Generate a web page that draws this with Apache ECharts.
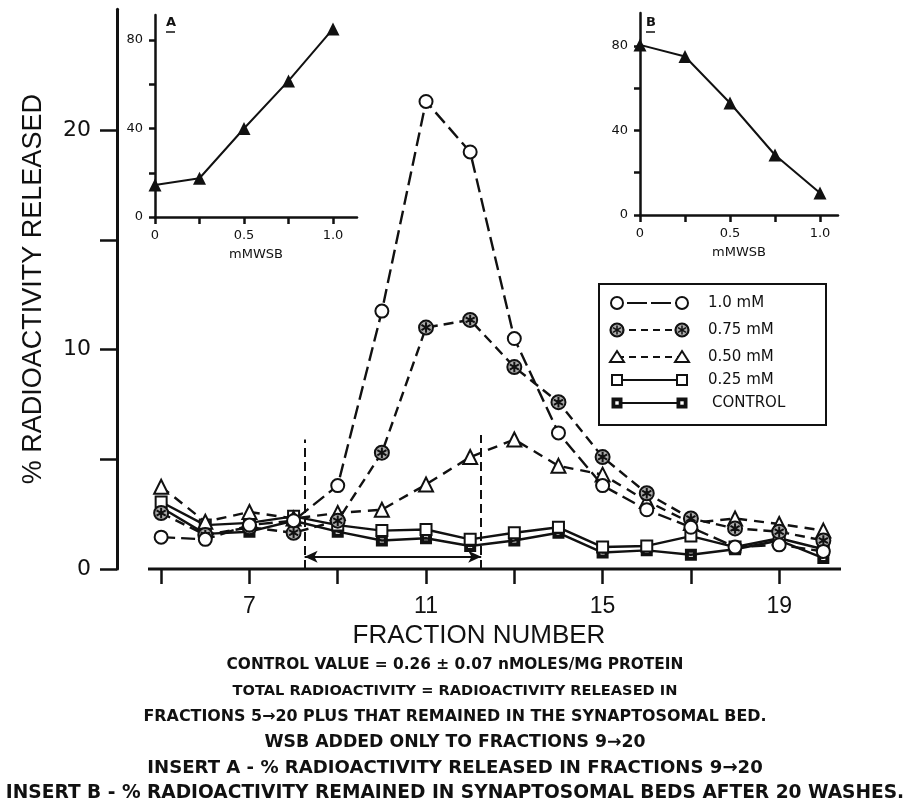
<!DOCTYPE html>
<html>
<head>
<meta charset="utf-8">
<script src="https://cdn.jsdelivr.net/npm/echarts@6/dist/echarts.min.js"></script>
<style>html,body{margin:0;padding:0;background:#fff}#c{width:913px;height:801px}</style>
</head>
<body>
<div id="c"></div>
<script>
// ---- data ----
const fractions = [5,6,7,8,9,10,11,12,13,14,15,16,17,18,19,20];
const mM100 = [1.45,1.35,2.0,2.2,3.8,11.75,21.3,19.0,10.5,6.2,3.8,2.7,1.9,1.0,1.1,0.8];
const mM075 = [2.55,1.55,1.9,1.65,2.2,5.3,11.0,11.35,9.2,7.6,5.1,3.45,2.3,1.85,1.7,1.3];
const mM050 = [3.75,2.15,2.6,2.3,2.55,2.7,3.85,5.1,5.9,4.7,4.3,3.1,2.1,2.3,2.05,1.75];
const mM025 = [3.05,2.0,2.1,2.4,2.0,1.75,1.8,1.35,1.65,1.9,1.0,1.05,1.5,1.0,1.4,0.9];
const control = [2.8,1.6,1.7,2.2,1.7,1.3,1.4,1.05,1.3,1.65,0.75,0.85,0.65,0.9,1.3,0.5];
const seriesNames = ['1.0 mM','0.75 mM','0.50 mM','0.25 mM','CONTROL'];

const xTicks = [5,7,9,11,13,15,17,19];
const xLabels = [7,11,15,19];
const yTicks = [0,5,10,15,20];
const yLabels = [0,10,20];

// WSB window annotation
const windowStart = 8.25, windowEnd = 12.25;
const windowTopLeft = 5.9, windowTopRight = 6.1, arrowLevel = 0.56;

// inserts
const dose = [0,0.25,0.5,0.75,1.0];
const insertA = [14.5,17.5,40,61.5,85];
const insertB = [80.5,75,53,28.4,10.4];
const insTicksY = [0,20,40,60,80];
const insLabelsY = [0,40,80];
const insTicksX = [0,0.25,0.5,0.75,1.0];
const insLabelsX = [0,0.5,1.0];

const notes = [
  'CONTROL VALUE = 0.26 \u00b1 0.07 nMOLES/MG PROTEIN',
  'TOTAL RADIOACTIVITY = RADIOACTIVITY RELEASED IN',
  'FRACTIONS 5\u219220 PLUS THAT REMAINED IN THE SYNAPTOSOMAL BED.',
  'WSB ADDED ONLY TO FRACTIONS 9\u219220',
  'INSERT A - % RADIOACTIVITY RELEASED IN FRACTIONS 9\u219220',
  'INSERT B - % RADIOACTIVITY REMAINED IN SYNAPTOSOMAL BEDS AFTER 20 WASHES.'
];

// ---- styling ----
const INK = '#111';
const FONT = 'DejaVu Sans';
const pair = (xs, ys) => xs.map((x,i)=>[x, ys[i]]);
const astPath = 'path://M2,12A10,10 0 1,1 22,12A10,10 0 1,1 2,12Z M12,4.5L12,19.5 M5.5,8.3L18.5,15.7 M5.5,15.7L18.5,8.3';
const ctrlPath = 'path://M0,0L10,0L10,10L0,10Z M3.3,3.3L3.3,6.7L6.7,6.7L6.7,3.3Z';

const styles = [
  {symbol:'circle', size:13, fill:'#fff', dash:[14,6]},
  {symbol:astPath, size:14, fill:'#aaa', dash:[10,6]},
  {symbol:'triangle', size:14, fill:'#fff', dash:[10,7]},
  {symbol:'rect', size:11, fill:'#fff', dash:'solid'},
  {symbol:ctrlPath, size:12, fill:INK, dash:'solid', noBorder:true}
];
const mainData = [mM100, mM075, mM050, mM025, control];

const mainSeries = mainData.map((vals, k) => {
  const st = styles[k];
  const s = {
    name: seriesNames[k], type:'line', xAxisIndex:0, yAxisIndex:0,
    data: pair(fractions, vals),
    symbol: st.symbol, symbolSize: st.size, symbolKeepAspect:true,
    showAllSymbol:true,
    lineStyle:{color:INK, width:2.4, type:st.dash},
    itemStyle: st.noBorder ? {color:INK, borderWidth:0} : {color:st.fill, borderColor:INK, borderWidth:2},
    z: 10 - k, animation:false
  };
  if (k === 0) {
    s.markLine = {
      silent:true, animation:false, symbol:['none','none'],
      label:{show:false},
      lineStyle:{color:INK, width:2, type:[9,5]},
      data:[
        [{coord:[windowStart,0]},{coord:[windowStart,windowTopLeft]}],
        [{coord:[windowEnd,0]},{coord:[windowEnd,windowTopRight]}],
        [{coord:[windowStart,arrowLevel], symbol:'arrow', symbolSize:[9,13], lineStyle:{type:'solid', width:2}},
         {coord:[windowEnd,arrowLevel], symbol:'arrow', symbolSize:[9,13]}]
      ]
    };
  }
  return s;
});

function insetAxes(gi, xmax, ymax) {
  return {
    x: {type:'value', gridIndex:gi, min:0, max:xmax,
      axisLine:{lineStyle:{color:INK, width:2.5}},
      axisTick:{customValues:insTicksX, length:7, lineStyle:{color:INK, width:2.5}},
      axisLabel:{customValues:insLabelsX, color:INK, fontFamily:FONT, fontSize:13, margin:12,
        formatter:v => v===0 ? '0' : v.toFixed(1)},
      splitLine:{show:false},
      name:'mMWSB', nameLocation:'middle', nameGap:31,
      nameTextStyle:{color:INK, fontFamily:FONT, fontSize:13}},
    y: {type:'value', gridIndex:gi, min:0, max:ymax,
      axisLine:{lineStyle:{color:INK, width:2.5}},
      axisTick:{customValues:insTicksY, length:6, lineStyle:{color:INK, width:2.5}},
      axisLabel:{customValues:insLabelsY, color:INK, fontFamily:FONT, fontSize:13, margin:12},
      splitLine:{show:false}}
  };
}
const axA = insetAxes(1, 1.135, 91.3);
const axB = insetAxes(2, 1.1, 95.6);

const insetSeries = [[insertA,1],[insertB,2]].map(([vals,gi]) => ({
  type:'line', xAxisIndex:gi, yAxisIndex:gi, data:pair(dose, vals),
  symbol:'triangle', symbolSize:13, showAllSymbol:true,
  lineStyle:{color:INK, width:2}, itemStyle:{color:INK}, animation:false
}));

// ---- legend box (graphic) ----
const legRows = [303,330,357,380,403];
const legX1 = 617, legX2 = 682, legTX = 708;
const legend = [];
legend.push({type:'rect', shape:{x:599,y:284,width:227,height:141}, style:{fill:'#fff', stroke:INK, lineWidth:2}, z:50});
function legSym(k, cx, cy) {
  if (k===0) return [{type:'circle', shape:{cx,cy,r:6}, style:{fill:'#fff', stroke:INK, lineWidth:2}, z:52}];
  if (k===1) return [
    {type:'circle', shape:{cx,cy,r:6.5}, style:{fill:'#aaa', stroke:INK, lineWidth:2.2}, z:52},
    {type:'line', shape:{x1:cx,y1:cy-4.5,x2:cx,y2:cy+4.5}, style:{stroke:INK, lineWidth:1.5}, z:53},
    {type:'line', shape:{x1:cx-4,y1:cy-2.3,x2:cx+4,y2:cy+2.3}, style:{stroke:INK, lineWidth:1.5}, z:53},
    {type:'line', shape:{x1:cx-4,y1:cy+2.3,x2:cx+4,y2:cy-2.3}, style:{stroke:INK, lineWidth:1.5}, z:53}];
  if (k===2) return [{type:'polygon', shape:{points:[[cx,cy-6],[cx+7,cy+5],[cx-7,cy+5]]}, style:{fill:'#fff', stroke:INK, lineWidth:2}, z:52}];
  if (k===3) return [{type:'rect', shape:{x:cx-5,y:cy-5,width:10,height:10}, style:{fill:'#fff', stroke:INK, lineWidth:2}, z:52}];
  return [{type:'rect', shape:{x:cx-5.5,y:cy-5.5,width:11,height:11}, style:{fill:INK}, z:52},
          {type:'rect', shape:{x:cx-1.7,y:cy-1.7,width:3.4,height:3.4}, style:{fill:'#fff'}, z:53}];
}
seriesNames.forEach((nm, k) => {
  const y = legRows[k];
  const d = styles[k].dash;
  legend.push({type:'line', shape:{x1:legX1,y1:y,x2:legX2,y2:y},
    style:{stroke:INK, lineWidth:2.2, lineDash: d==='solid' ? null : (k===0 ? [6,4,14,0] : [7,5])}, z:51});
  legend.push(...legSym(k, legX1, y), ...legSym(k, legX2, y));
  legend.push({type:'text', x: k===4 ? legTX+4 : legTX, y:y, style:{text:nm, fill:INK, font:'15px "DejaVu Sans"', textVerticalAlign:'middle'}, z:52});
});

// insert letters
const letters = [
  {t:'A', x:166, y:23},
  {t:'B', x:646, y:23}
];
letters.forEach(L => {
  legend.push({type:'text', x:L.x, y:L.y, style:{text:L.t, fill:INK, font:'bold 13px "DejaVu Sans"', textVerticalAlign:'middle'}, z:52});
  legend.push({type:'line', shape:{x1:L.x,y1:L.y+9,x2:L.x+9,y2:L.y+9}, style:{stroke:INK, lineWidth:1.5}, z:52});
});

// x axis line with gap from the y axis
legend.push({type:'line', shape:{x1:148,y1:569,x2:841,y2:569}, style:{stroke:INK, lineWidth:3}, z:20});

// notes
const noteY = [665,691,717,743,768,793];
const noteSize = [15.4,14.6,15.9,17.3,18.1,18.6];
notes.forEach((t,i) => legend.push({type:'text', x:455, y:noteY[i],
  style:{text:t, fill:INK, font:'bold ' + noteSize[i] + 'px "DejaVu Sans"', textAlign:'center', textVerticalAlign:'middle'}, z:52}));

const option = {
  backgroundColor:'#fff',
  animation:false,
  grid:[
    {left:117, top:9.3, width:724, height:559.7},
    {left:155, top:15, width:202, height:202},
    {left:640, top:13, width:198, height:202}
  ],
  xAxis:[
    {type:'value', gridIndex:0, min:4, max:20.4,
      axisLine:{show:false},
      axisTick:{show:true, customValues:xTicks, length:15, lineStyle:{color:INK, width:2.5}},
      axisLabel:{customValues:xLabels, color:INK, fontFamily:'Liberation Sans', fontSize:23, margin:26},
      splitLine:{show:false},
      name:'FRACTION NUMBER', nameLocation:'middle', nameGap:50,
      nameTextStyle:{color:INK, fontFamily:'Liberation Sans', fontSize:26}},
    axA.x, axB.x
  ],
  yAxis:[
    {type:'value', gridIndex:0, min:0, max:25.5,
      axisLine:{show:true, lineStyle:{color:INK, width:3}},
      axisTick:{show:true, customValues:yTicks, length:17, lineStyle:{color:INK, width:2.5}},
      axisLabel:{customValues:yLabels, color:INK, fontFamily:FONT, fontSize:22, margin:26},
      splitLine:{show:false},
      name:'% RADIOACTIVITY RELEASED', nameLocation:'middle', nameGap:70,
      nameTextStyle:{color:INK, fontFamily:'Liberation Sans', fontSize:27}},
    axA.y, axB.y
  ],
  series:[...mainSeries, ...insetSeries],
  graphic: legend
};
const chart = echarts.init(document.getElementById('c'), null, {renderer:'canvas'});
chart.setOption(option);
</script>
</body>
</html>
